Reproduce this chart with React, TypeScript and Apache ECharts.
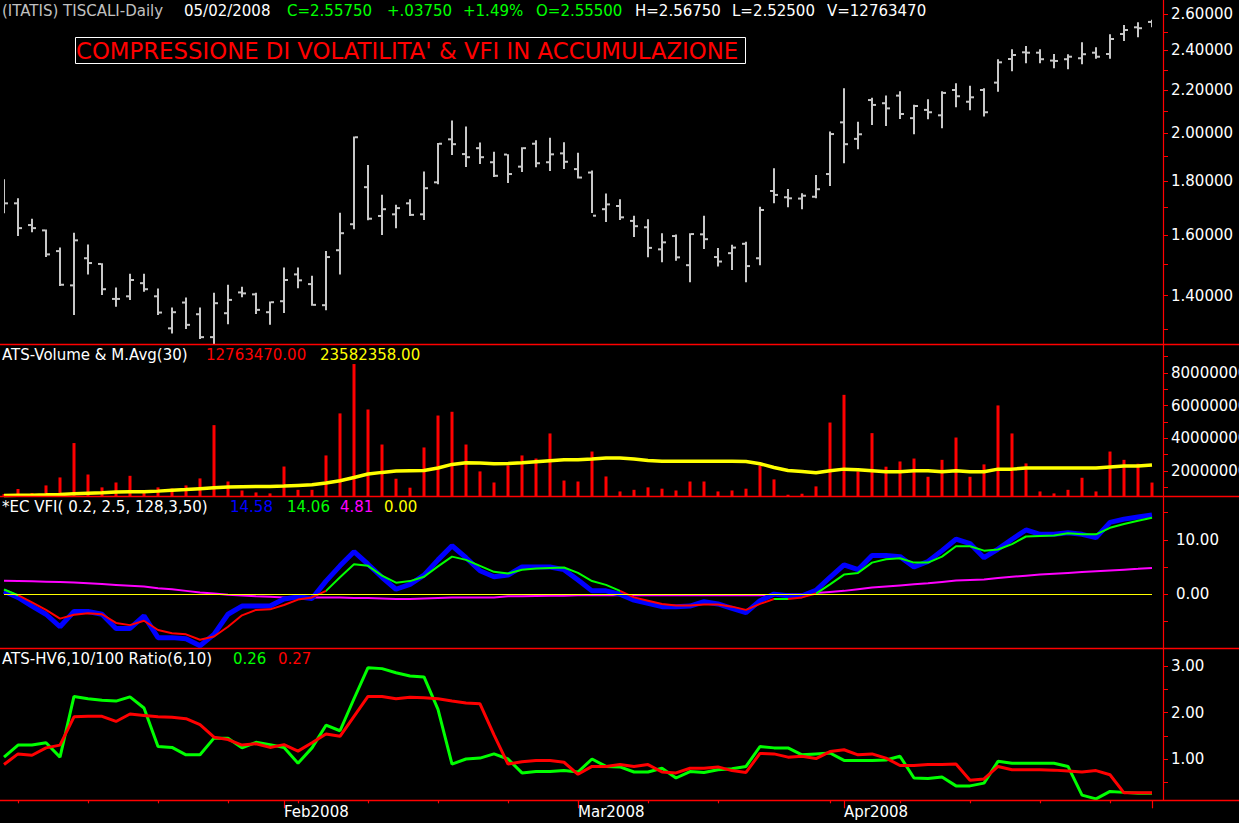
import React, { useEffect, useRef } from 'react';
import * as echarts from 'echarts';

// ---------- calendar (Borsa Italiana trading days) ----------
const FIRST_DAY = '2008-01-04';
const LAST_DAY = '2008-05-02';
const HOLIDAYS = ['2008-03-21', '2008-03-24', '2008-05-01'];
const MONTHS = ['Jan', 'Feb', 'Mar', 'Apr', 'May', 'Jun', 'Jul', 'Aug', 'Sep', 'Oct', 'Nov', 'Dec'];

function buildTradingDays(): string[] {
  const out: string[] = [];
  const d = new Date(FIRST_DAY + 'T00:00:00Z');
  const end = new Date(LAST_DAY + 'T00:00:00Z');
  while (d <= end) {
    const wd = d.getUTCDay();
    const s = d.toISOString().slice(0, 10);
    if (wd !== 0 && wd !== 6 && !HOLIDAYS.includes(s)) out.push(s);
    d.setUTCDate(d.getUTCDate() + 1);
  }
  return out;
}
const dates = buildTradingDays();

// ---------- price (OHLC) ----------
const priceOpen = [
  1.796, 1.715, 1.635, 1.616, 1.544, 1.432, 1.520, 1.501, 1.390, 1.398,
  1.439, 1.398, 1.303, 1.379, 1.344, 1.278, 1.347, 1.410, 1.404, 1.350,
  1.383, 1.467, 1.436, 1.371, 1.547, 1.638, 1.777, 1.668, 1.674, 1.715,
  1.674, 1.796, 1.974, 1.911, 1.936, 1.877, 1.909, 1.859, 1.955, 1.877,
  1.914, 1.849, 1.835, 1.693, 1.705, 1.650, 1.627, 1.550, 1.596, 1.497,
  1.602, 1.524, 1.537, 1.569, 1.520, 1.762, 1.738, 1.733, 1.740, 1.829,
  2.049, 1.976, 2.152, 2.137, 2.173, 2.068, 2.106, 2.081, 2.200, 2.144,
  2.200, 2.236, 2.355, 2.390, 2.388, 2.347, 2.354, 2.359, 2.388, 2.381,
  2.488, 2.525, 2.555,
];
const priceHigh = [
  1.808, 1.734, 1.658, 1.619, 1.556, 1.608, 1.567, 1.503, 1.425, 1.469,
  1.469, 1.422, 1.364, 1.394, 1.364, 1.409, 1.434, 1.428, 1.409, 1.382,
  1.489, 1.489, 1.463, 1.544, 1.680, 1.986, 1.866, 1.748, 1.710, 1.730,
  1.839, 1.958, 2.057, 2.030, 1.960, 1.921, 1.910, 1.940, 1.970, 1.981,
  1.961, 1.917, 1.843, 1.752, 1.730, 1.669, 1.656, 1.606, 1.601, 1.606,
  1.669, 1.555, 1.566, 1.576, 1.702, 1.852, 1.770, 1.753, 1.825, 2.008,
  2.208, 2.052, 2.163, 2.173, 2.194, 2.130, 2.156, 2.194, 2.233, 2.221,
  2.208, 2.354, 2.406, 2.424, 2.406, 2.381, 2.380, 2.443, 2.417, 2.487,
  2.538, 2.553, 2.5675,
];
const priceLow = [
  1.678, 1.596, 1.609, 1.524, 1.430, 1.342, 1.467, 1.402, 1.366, 1.387,
  1.412, 1.342, 1.288, 1.301, 1.273, 1.255, 1.315, 1.395, 1.345, 1.313,
  1.348, 1.423, 1.369, 1.356, 1.467, 1.620, 1.652, 1.600, 1.624, 1.668,
  1.653, 1.788, 1.907, 1.858, 1.870, 1.817, 1.793, 1.837, 1.856, 1.841,
  1.849, 1.811, 1.679, 1.646, 1.653, 1.593, 1.523, 1.507, 1.512, 1.442,
  1.551, 1.493, 1.481, 1.442, 1.497, 1.715, 1.700, 1.693, 1.734, 1.782,
  1.873, 1.931, 2.037, 2.033, 2.064, 1.996, 2.063, 2.023, 2.118, 2.104,
  2.075, 2.191, 2.292, 2.333, 2.333, 2.308, 2.303, 2.328, 2.357, 2.357,
  2.450, 2.470, 2.525,
];
const priceClose = [
  1.715, 1.624, 1.624, 1.533, 1.434, 1.581, 1.504, 1.420, 1.390, 1.449,
  1.420, 1.349, 1.350, 1.313, 1.278, 1.377, 1.387, 1.407, 1.357, 1.380,
  1.449, 1.448, 1.372, 1.524, 1.606, 1.983, 1.658, 1.693, 1.697, 1.672,
  1.773, 1.955, 1.953, 1.898, 1.898, 1.822, 1.829, 1.936, 1.873, 1.910,
  1.879, 1.815, 1.669, 1.711, 1.663, 1.631, 1.555, 1.574, 1.523, 1.603,
  1.585, 1.509, 1.556, 1.494, 1.690, 1.747, 1.734, 1.744, 1.769, 1.997,
  1.953, 1.996, 2.129, 2.113, 2.087, 2.124, 2.095, 2.186, 2.170, 2.165,
  2.095, 2.338, 2.376, 2.388, 2.354, 2.345, 2.367, 2.380, 2.367, 2.461,
  2.510, 2.520, 2.5575,
];
const PRICE_AXIS_MIN = 1.2589;
const PRICE_AXIS_MAX = 2.6812;
const priceTickValues = [1.3, 1.4, 1.5, 1.6, 1.7, 1.8, 1.9, 2.0, 2.1, 2.2, 2.3, 2.4, 2.5, 2.6];
const priceLabelValues = [1.4, 1.6, 1.8, 2.0, 2.2, 2.4, 2.6];

// ---------- volume & moving average(30) ----------
const volume = [
  5700000, 8800000, 6300000, 11000000, 15900000, 37000000, 17700000, 9800000, 12800000, 16900000,
  6300000, 9800000, 9100000, 11000000, 15300000, 48000000, 13400000, 7900000, 6700000, 6100000,
  22600000, 8300000, 8300000, 29400000, 55200000, 85500000, 57600000, 36100000, 15100000, 9600000,
  34300000, 53900000, 56200000, 36100000, 19600000, 12800000, 23300000, 29400000, 27500000, 42900000,
  14000000, 13400000, 31800000, 16500000, 7300000, 8300000, 9800000, 9000000, 7900000, 13400000,
  13400000, 7300000, 7900000, 9000000, 23300000, 14700000, 5300000, 5900000, 10400000, 49600000,
  66600000, 19600000, 43100000, 22500000, 25700000, 27500000, 16300000, 26700000, 40400000, 16300000,
  23900000, 60100000, 42900000, 24500000, 7300000, 6100000, 8300000, 15700000, 7300000, 31800000,
  26700000, 24300000, 12763470,
];
const volumeMA = [
  4800000, 4900000, 5000000, 5200000, 5500000, 5900000, 6200000, 6500000, 7000000, 7100000,
  7100000, 7500000, 8100000, 8500000, 9000000, 9500000, 10000000, 10200000, 10300000, 10400000,
  10600000, 11000000, 11400000, 12500000, 13900000, 15900000, 18000000, 19000000, 19800000, 20000000,
  20200000, 21700000, 23900000, 24900000, 24800000, 24300000, 24400000, 24900000, 25500000, 26100000,
  26700000, 26800000, 27200000, 27800000, 27800000, 27200000, 26300000, 25900000, 25900000, 25900000,
  25900000, 25900000, 25900000, 25700000, 24300000, 22000000, 20200000, 19600000, 18800000, 20000000,
  21000000, 20600000, 20000000, 19400000, 19400000, 20000000, 20000000, 19400000, 20000000, 19400000,
  19400000, 21000000, 21000000, 21700000, 21700000, 21700000, 21700000, 21700000, 21700000, 22300000,
  22900000, 22900000, 23582358,
];
const VOL_AXIS_MIN = 4200000;
const VOL_AXIS_MAX = 97800000;
const volTickValues = [10e6, 20e6, 30e6, 40e6, 50e6, 60e6, 70e6, 80e6, 90e6];
const volLabelValues = [20e6, 40e6, 60e6, 80e6];

// ---------- EC VFI ----------
const vfi = [
  0.55, -0.6, -2.2, -3.7, -6.0, -3.2, -3.2, -3.7, -6.3, -6.3,
  -4.0, -8.0, -8.0, -8.2, -9.5, -7.4, -3.7, -2.2, -2.2, -2.2,
  -0.9, -0.5, -0.8, 2.4, 5.2, 7.8, 5.5, 3.1, 0.9, 1.8,
  3.5, 6.3, 8.9, 6.7, 4.3, 3.2, 3.5, 5.0, 5.0, 5.0,
  4.5, 2.6, 0.6, 0.6, 0.0, -1.1, -1.7, -2.3, -2.3, -2.2,
  -1.4, -1.8, -2.6, -3.4, -1.2, 0.0, -0.3, -0.3, 0.7, 3.1,
  5.4, 4.5, 7.1, 7.1, 6.9, 5.0, 6.0, 8.0, 10.1, 9.3,
  6.7, 8.3, 10.1, 11.8, 11.0, 11.0, 11.3, 11.0, 10.4, 13.2,
  13.8, 14.2, 14.58,
];
const vfiSignal = [
  0.85, -0.2, -1.5, -2.9, -4.5, -3.8, -3.5, -3.7, -5.3, -5.7,
  -4.9, -6.6, -7.2, -7.4, -8.4, -7.8, -6.0, -3.9, -2.9, -2.8,
  -2.0, -1.0, -0.6, 0.6, 3.1, 5.5, 5.2, 3.4, 2.1, 2.4,
  3.2, 5.1, 6.9, 6.3, 5.2, 4.1, 3.8, 4.5, 4.7, 4.8,
  4.9, 3.9, 2.4, 1.7, 0.6, -0.6, -1.2, -1.8, -2.1, -2.1,
  -1.9, -1.9, -2.3, -2.9, -1.8, -0.9, -0.9, -0.6, 0.1, 1.8,
  3.6, 3.9, 5.8, 6.4, 6.6, 5.8, 5.8, 6.9, 8.8, 8.8,
  8.0, 8.2, 9.2, 10.6, 10.7, 10.8, 11.2, 11.0, 11.0, 12.2,
  12.9, 13.5, 14.06,
];
const vfiAverage = [
  2.45, 2.4, 2.35, 2.3, 2.25, 2.15, 2.0, 1.85, 1.7, 1.55,
  1.4, 1.1, 0.9, 0.6, 0.3, 0.1, -0.1, -0.25, -0.4, -0.5,
  -0.6, -0.6, -0.6, -0.6, -0.6, -0.7, -0.7, -0.8, -0.9, -0.9,
  -0.8, -0.7, -0.6, -0.6, -0.6, -0.6, -0.4, -0.4, -0.35, -0.3,
  -0.3, -0.2, -0.2, -0.2, -0.2, -0.2, -0.2, -0.2, -0.2, -0.2,
  -0.2, -0.2, -0.2, -0.2, -0.2, -0.1, -0.05, 0.0, 0.2, 0.4,
  0.6, 0.9, 1.2, 1.4, 1.6, 1.8, 2.0, 2.25, 2.5, 2.6,
  2.7, 2.95, 3.2, 3.4, 3.6, 3.75, 3.9, 4.05, 4.2, 4.35,
  4.5, 4.65, 4.81,
];
const VFI_ZERO_LEVEL = 0;
// colour bands of the signal line (by bar index)
const signalBands = [
  { from: -1, to: 1, color: '#00ff00' },
  { from: 1, to: 22.6, color: '#ff0000' },
  { from: 22.6, to: 44, color: '#00ff00' },
  { from: 44, to: 55, color: '#ff0000' },
  { from: 55, to: 56, color: '#00ff00' },
  { from: 56, to: 57.5, color: '#ff0000' },
  { from: 57.5, to: 100, color: '#00ff00' },
];
const vfiTickValues = [-5, 0, 5, 10, 15];
const vfiLabelValues = [0, 10];

// ---------- HV 6,10/100 ratio ----------
const hvRatio6 = [
  1.04, 1.30, 1.30, 1.35, 1.04, 2.35, 2.30, 2.27, 2.25, 2.34,
  2.10, 1.27, 1.25, 1.09, 1.09, 1.45, 1.45, 1.24, 1.36, 1.31,
  1.25, 0.91, 1.24, 1.73, 1.61, 2.30, 2.97, 2.95, 2.86, 2.79,
  2.77, 2.07, 0.89, 1.00, 1.02, 1.11, 1.00, 0.70, 0.73, 0.73,
  0.75, 0.72, 1.00, 0.84, 0.83, 0.72, 0.72, 0.80, 0.59, 0.73,
  0.71, 0.77, 0.79, 0.84, 1.27, 1.24, 1.24, 1.09, 1.11, 1.13,
  0.97, 0.97, 0.97, 0.98, 1.06, 0.59, 0.58, 0.61, 0.42, 0.42,
  0.48, 0.95, 0.91, 0.91, 0.91, 0.91, 0.84, 0.22, 0.14, 0.30,
  0.28, 0.26, 0.26,
];
const hvRatio10 = [
  0.88, 1.11, 1.08, 1.24, 1.30, 1.91, 1.92, 1.92, 1.81, 1.97,
  1.94, 1.91, 1.90, 1.87, 1.74, 1.47, 1.42, 1.30, 1.33, 1.25,
  1.31, 1.17, 1.35, 1.54, 1.49, 1.92, 2.35, 2.35, 2.30, 2.33,
  2.32, 2.30, 2.25, 2.21, 2.19, 1.52, 0.89, 0.94, 0.97, 0.97,
  0.93, 0.67, 0.84, 0.84, 0.88, 0.84, 0.88, 0.72, 0.70, 0.80,
  0.80, 0.83, 0.75, 0.71, 1.12, 1.11, 1.04, 1.06, 1.01, 1.16,
  1.20, 1.09, 1.11, 1.02, 0.86, 0.86, 0.88, 0.88, 0.89, 0.54,
  0.57, 0.84, 0.77, 0.77, 0.77, 0.76, 0.74, 0.72, 0.75, 0.66,
  0.27, 0.27, 0.27,
];
const HV_AXIS_MIN = 0.109;
const HV_AXIS_MAX = 3.395;
const hvTickValues = [0.5, 1.0, 1.5, 2.0, 2.5, 3.0];
const hvLabelValues = [1, 2, 3];

// ---------- texts ----------
const SYMBOL_TEXT = '(ITATIS) TISCALI-Daily';
const TITLE_TEXT = "COMPRESSIONE DI VOLATILITA' & VFI IN ACCUMULAZIONE";
const VOLUME_LEGEND = 'ATS-Volume & M.Avg(30)';
const VFI_LEGEND = '*EC VFI( 0.2, 2.5, 128,3,50)';
const HV_LEGEND = 'ATS-HV6,10/100 Ratio(6,10)';

// ---------- layout ----------
const W = 1239;
const H = 823;
const PLOT_LEFT = 4;
const PLOT_WIDTH = 1148;
const AXIS_OFFSET = 11;
const FONT = 'DejaVu Sans';
const RED = '#ff0000';
const GREEN = '#00ff00';
const panels = [
  { top: 0, height: 344 },
  { top: 344, height: 152.5 },
  { top: 496, height: 152.5 },
  { top: 648, height: 152.3 },
];

function fmtDate(d: string): string {
  return `${d.slice(5, 7)}/${d.slice(8, 10)}/${d.slice(0, 4)}`;
}
function isMonday(d: string): boolean {
  return new Date(d + 'T00:00:00Z').getUTCDay() === 1;
}
function isMonthStart(idx: number): boolean {
  return idx > 0 && dates[idx].slice(0, 7) !== dates[idx - 1].slice(0, 7);
}

function text(x: number, y: number, s: string, fill: string, size = 15) {
  return {
    type: 'text',
    x,
    y,
    silent: true,
    style: { text: s, fill, fontSize: size, fontFamily: FONT, verticalAlign: 'middle', align: 'left' },
  };
}
function hline(y: number) {
  return {
    type: 'line',
    silent: true,
    shape: { x1: 0, y1: y, x2: W, y2: y },
    style: { stroke: RED, lineWidth: 1.5 },
    z: 50,
  };
}

function yAxisBase(gridIndex: number, min: number, max: number, ticks: number[], labels: number[], fmt: (v: number) => string, margin = 8) {
  return {
    type: 'value',
    gridIndex,
    position: 'right',
    offset: AXIS_OFFSET,
    min,
    max,
    splitLine: { show: false },
    axisLine: { show: true, lineStyle: { color: RED, width: 1.2 } },
    axisTick: { show: true, customValues: ticks, length: 5, lineStyle: { color: RED, width: 1 } },
    axisLabel: {
      customValues: labels,
      formatter: fmt,
      color: '#ffffff',
      fontSize: 15,
      fontFamily: FONT,
      margin,
    },
  };
}

export default function App() {
  const ref = useRef<HTMLDivElement>(null);

  useEffect(() => {
    if (!ref.current) return;
    const chart = echarts.init(ref.current, null, { renderer: 'svg', width: W, height: H });
    const last = dates.length - 1;
    const chg = priceClose[last] - priceClose[last - 1];
    const chgTxt = (chg >= 0 ? '+' : '-') + Math.abs(chg).toFixed(5).replace(/^0/, '');
    const pctTxt = (chg >= 0 ? '+' : '-') + Math.abs((chg / priceClose[last - 1]) * 100).toFixed(2) + '%';

    const ohlc = dates.map((_, i) => [
      i,
      Math.log(priceOpen[i]),
      Math.log(priceHigh[i]),
      Math.log(priceLow[i]),
      Math.log(priceClose[i]),
    ]);

    const hiddenX = (gridIndex: number) => ({
      type: 'category',
      gridIndex,
      data: dates,
      boundaryGap: false,
      show: false,
    });

    const option: any = {
      animation: false,
      backgroundColor: '#000000',
      grid: panels.map((p) => ({
        left: PLOT_LEFT,
        width: PLOT_WIDTH,
        top: p.top,
        height: p.height,
        containLabel: false,
        outerBoundsMode: 'none',
      })),
      xAxis: [
        hiddenX(0),
        hiddenX(1),
        hiddenX(2),
        {
          type: 'category',
          gridIndex: 3,
          data: dates,
          boundaryGap: false,
          position: 'bottom',
          axisLine: { show: false },
          axisTick: { show: true, length: 3, interval: (_i: number, v: string) => isMonday(v), lineStyle: { color: RED, width: 1.2 } },
          axisLabel: { show: false },
          splitLine: { show: false },
        },
        {
          type: 'category',
          gridIndex: 3,
          data: dates,
          boundaryGap: false,
          position: 'bottom',
          axisLine: { show: false },
          axisTick: { show: true, length: 8, interval: (i: number) => isMonthStart(i), lineStyle: { color: RED, width: 1.2 } },
          axisLabel: {
            show: true,
            interval: (i: number) => isMonthStart(i) && i < last,
            formatter: (v: string) => MONTHS[parseInt(v.slice(5, 7), 10) - 1] + v.slice(0, 4),
            color: '#ffffff',
            fontSize: 15,
            fontFamily: FONT,
            align: 'left',
            margin: 4,
          },
          splitLine: { show: false },
        },
      ],
      yAxis: [
        yAxisBase(
          0,
          Math.log(PRICE_AXIS_MIN),
          Math.log(PRICE_AXIS_MAX),
          priceTickValues.map(Math.log),
          priceLabelValues.map(Math.log),
          (v: number) => Math.exp(v).toFixed(5),
        ),
        yAxisBase(1, VOL_AXIS_MIN, VOL_AXIS_MAX, volTickValues, volLabelValues, (v: number) => String(Math.round(v))),
        yAxisBase(2, -10, 18.05, vfiTickValues, vfiLabelValues, (v: number) => v.toFixed(2), 13),
        yAxisBase(3, HV_AXIS_MIN, HV_AXIS_MAX, hvTickValues, hvLabelValues, (v: number) => v.toFixed(2)),
      ],
      visualMap: [
        {
          type: 'piecewise',
          show: false,
          seriesIndex: 5,
          dimension: 0,
          pieces: signalBands.map((b) => ({ gte: b.from, lt: b.to, color: b.color })),
        },
      ],
      series: [
        {
          type: 'custom',
          name: 'price',
          xAxisIndex: 0,
          yAxisIndex: 0,
          data: ohlc,
          encode: { x: 0, y: [1, 2, 3, 4] },
          clip: true,
          renderItem: (_p: any, api: any) => {
            const i = api.value(0);
            const o = api.coord([i, api.value(1)]);
            const h = api.coord([i, api.value(2)]);
            const l = api.coord([i, api.value(3)]);
            const c = api.coord([i, api.value(4)]);
            const x = Math.round(h[0]);
            const style = { fill: '#c8c8c8' };
            return {
              type: 'group',
              children: [
                { type: 'rect', shape: { x: x - 1, y: h[1], width: 2, height: Math.max(2, l[1] - h[1]) }, style },
                { type: 'rect', shape: { x: x - 4, y: o[1] - 1, width: 3, height: 2 }, style },
                { type: 'rect', shape: { x: x + 1, y: c[1] - 1, width: 3, height: 2 }, style },
              ],
            };
          },
        },
        {
          type: 'bar',
          name: 'volume',
          xAxisIndex: 1,
          yAxisIndex: 1,
          data: volume,
          barWidth: 3,
          itemStyle: { color: RED },
        },
        {
          type: 'line',
          name: 'ma30',
          xAxisIndex: 1,
          yAxisIndex: 1,
          data: volumeMA,
          symbol: 'none',
          lineStyle: { color: '#ffff00', width: 3.5 },
          z: 3,
        },
        {
          type: 'line',
          name: 'vfiAvg',
          xAxisIndex: 2,
          yAxisIndex: 2,
          data: vfiAverage,
          symbol: 'none',
          lineStyle: { color: '#ff00ff', width: 2 },
        },
        {
          type: 'line',
          name: 'vfi',
          xAxisIndex: 2,
          yAxisIndex: 2,
          data: vfi,
          symbol: 'none',
          lineStyle: { color: '#0000ff', width: 5 },
        },
        {
          type: 'line',
          name: 'signal',
          xAxisIndex: 2,
          yAxisIndex: 2,
          data: vfiSignal.map((v, i) => [i, v]),
          symbol: 'none',
          lineStyle: { width: 2 },
        },
        {
          type: 'line',
          name: 'zero',
          xAxisIndex: 2,
          yAxisIndex: 2,
          data: [],
          symbol: 'none',
          z: 5,
          markLine: {
            silent: true,
            symbol: 'none',
            label: { show: false },
            lineStyle: { color: '#ffff00', width: 1.2, type: 'solid' },
            data: [{ yAxis: VFI_ZERO_LEVEL }],
          },
        },
        {
          type: 'line',
          name: 'hv6',
          xAxisIndex: 3,
          yAxisIndex: 3,
          data: hvRatio6,
          symbol: 'none',
          lineStyle: { color: GREEN, width: 3 },
        },
        {
          type: 'line',
          name: 'hv10',
          xAxisIndex: 3,
          yAxisIndex: 3,
          data: hvRatio10,
          symbol: 'none',
          lineStyle: { color: RED, width: 3 },
        },
      ],
      graphic: [
        hline(344.5),
        hline(496.5),
        hline(648.5),
        hline(800.5),
        text(2, 11, SYMBOL_TEXT, '#c0c0c0'),
        text(184, 11, fmtDate(dates[last]), '#ffffff'),
        text(287, 11, 'C=' + priceClose[last].toFixed(5), GREEN),
        text(387, 11, chgTxt, GREEN),
        text(463, 11, pctTxt, GREEN),
        text(536, 11, 'O=' + priceOpen[last].toFixed(5), GREEN),
        text(635, 11, 'H=' + priceHigh[last].toFixed(5), '#ffffff'),
        text(732, 11, 'L=' + priceLow[last].toFixed(5), '#ffffff'),
        text(827, 11, 'V=' + String(volume[last]), '#ffffff'),
        {
          type: 'rect',
          silent: true,
          shape: { x: 75.5, y: 37.5, width: 670, height: 26 },
          style: { fill: 'none', stroke: '#ffffff', lineWidth: 1 },
        },
        text(76, 51, TITLE_TEXT, RED, 22.8),
        text(2, 355, VOLUME_LEGEND, '#ffffff'),
        text(206, 355, volume[last].toFixed(2), RED),
        text(320, 355, volumeMA[last].toFixed(2), '#ffff00'),
        text(2, 507, VFI_LEGEND, '#ffffff'),
        text(230, 507, vfi[last].toFixed(2), '#0000ff'),
        text(287, 507, vfiSignal[last].toFixed(2), GREEN),
        text(340, 507, vfiAverage[last].toFixed(2), '#ff00ff'),
        text(384, 507, VFI_ZERO_LEVEL.toFixed(2), '#ffff00'),
        text(2, 659, HV_LEGEND, '#ffffff'),
        text(233, 659, hvRatio6[last].toFixed(2), GREEN),
        text(278, 659, hvRatio10[last].toFixed(2), RED),
      ],
    };

    chart.setOption(option);
    return () => chart.dispose();
  }, []);

  return (
    <div style={{ position: 'fixed', left: 0, top: 0, width: W, height: H, overflow: 'hidden', background: '#000' }}>
      <div ref={ref} style={{ width: W, height: H }} />
    </div>
  );
}
